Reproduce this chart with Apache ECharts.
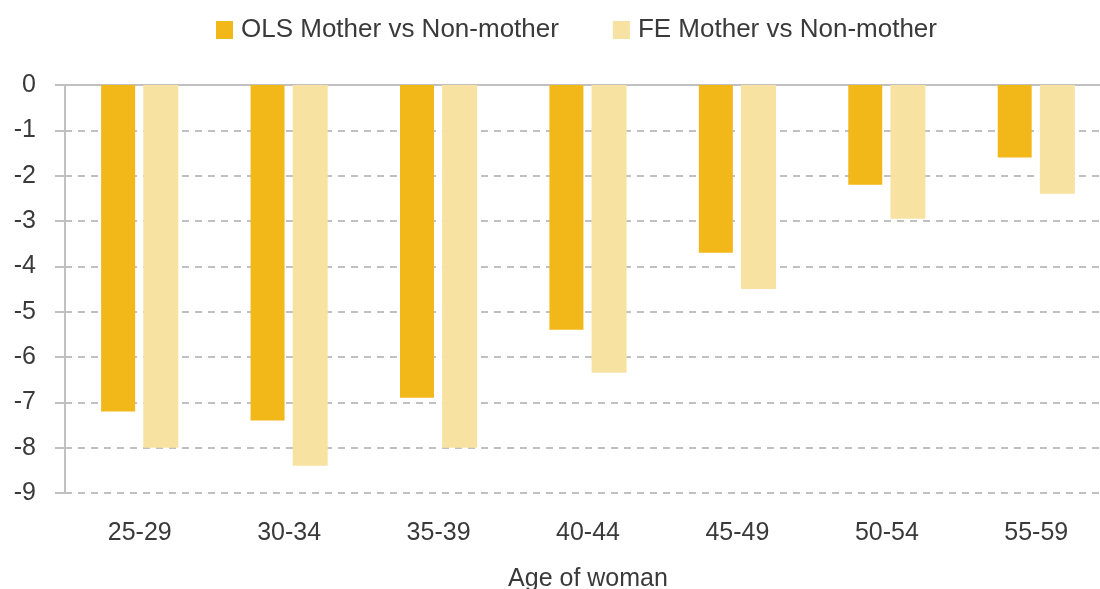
<!DOCTYPE html>
<html>
<head>
<meta charset="utf-8">
<script src="https://cdn.jsdelivr.net/npm/echarts@6/dist/echarts.min.js"></script>
<style>
  html, body { margin: 0; padding: 0; background: #fff; }
  #chart { width: 1100px; height: 589px; }
</style>
</head>
<body>
<div id="chart"></div>
<script>
const ageGroups = ['25-29', '30-34', '35-39', '40-44', '45-49', '50-54', '55-59'];
const olsValues = [-7.2, -7.4, -6.9, -5.4, -3.7, -2.2, -1.6];
const feValues = [-8.0, -8.4, -8.0, -6.35, -4.5, -2.95, -2.4];
const seriesNames = ['OLS Mother vs Non-mother', 'FE Mother vs Non-mother'];

window.onload = function () {
    let myChart = echarts.init(document.querySelector('#chart'));
    const font = 'Liberation Sans, Arial, sans-serif';
    const txt = '#3a3a3a';
    const grey = '#c0c0c0';
    let option = {
        animation: false,
        textStyle: { fontFamily: font },
        legend: {
            top: 12,
            left: 211,
            icon: 'rect',
            itemWidth: 17,
            itemHeight: 18,
            itemGap: 54,
            textStyle: { fontSize: 26, color: txt, fontFamily: font, padding: [0, 0, 0, 3] },
            data: seriesNames
        },
        grid: { left: 65, right: -11, top: 85, bottom: 96, outerBoundsMode: 'none' },
        xAxis: [{
            type: 'category',
            position: 'bottom',
            data: ageGroups,
            axisLine: { show: false, onZero: false },
            axisTick: { show: false },
            axisLabel: { fontSize: 25, color: txt, margin: 28 },
            name: 'Age of woman',
            nameLocation: 'middle',
            nameGap: 74,
            nameTextStyle: { fontSize: 25, color: txt }
        }, {
            // solid zero line along the top
            type: 'category',
            position: 'top',
            data: ageGroups,
            axisLine: { show: true, onZero: false, lineStyle: { color: grey, width: 2 } },
            axisTick: { show: false },
            axisLabel: { show: false }
        }],
        yAxis: {
            type: 'value',
            min: -9,
            max: 0,
            interval: 1,
            axisLine: { show: true, lineStyle: { color: grey, width: 2 } },
            axisTick: { show: true, length: 10, lineStyle: { color: grey, width: 2 } },
            axisLabel: { fontSize: 25, color: txt, margin: 29 },
            splitLine: { show: true, lineStyle: { color: grey, width: 2, type: [7, 6] } }
        },
        series: [{
            name: seriesNames[0],
            type: 'bar',
            xAxisIndex: 0,
            data: olsValues,
            barWidth: 34,
            barGap: '24%',
            itemStyle: { color: '#F2B81A' }
        }, {
            name: seriesNames[1],
            type: 'bar',
            xAxisIndex: 0,
            data: feValues,
            barWidth: 35,
            itemStyle: { color: '#F8E2A2' }
        }]
    };
    myChart.setOption(option);
};
</script>
</body>
</html>
